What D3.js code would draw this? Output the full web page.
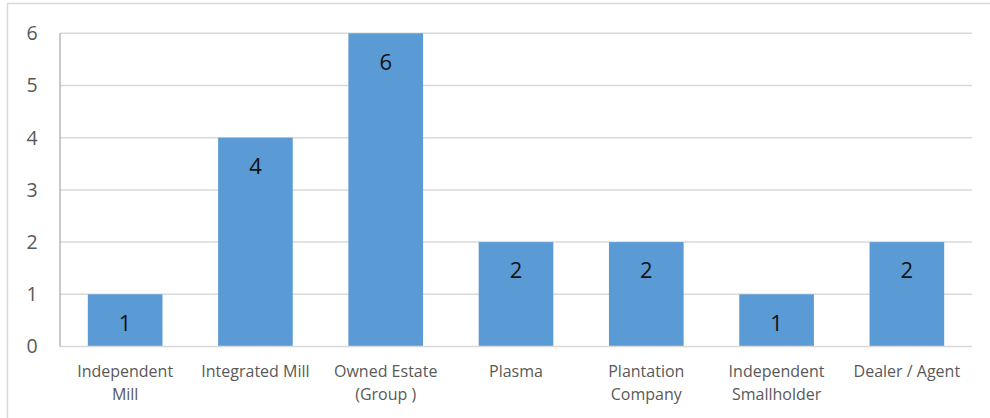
<!DOCTYPE html>
<html><head><meta charset="utf-8">
<script src="https://cdn.jsdelivr.net/npm/d3@7"></script>
<style>html,body{margin:0;padding:0;background:#fff;overflow:hidden}</style>
</head><body>
<svg id="chart" width="990" height="418"></svg>
<script>
const categories = ["Independent Mill","Integrated Mill","Owned Estate (Group )","Plasma","Plantation Company","Independent Smallholder","Dealer / Agent"];
const categoryLines = [["Independent","Mill"],["Integrated Mill"],["Owned Estate","(Group )"],["Plasma"],["Plantation","Company"],["Independent","Smallholder"],["Dealer / Agent"]];
const values = [1,4,6,2,2,1,2];
const yTicks = [0,1,2,3,4,5,6];

const svg = d3.select("#chart");
const font = "'Open Sans', sans-serif";
const m = {left:60, right:972, top:33.3, bottom:346.5};

svg.append("rect").attr("x",7.5).attr("y",3.5).attr("width",1000).attr("height",430)
  .attr("fill","#fff").attr("stroke","#d9d9d9").attr("stroke-width",1.5);

const x = d3.scaleBand().domain(categories).range([m.left,m.right]).paddingInner(0.427).paddingOuter(0.2135);
const y = d3.scaleLinear().domain([0,6]).range([m.bottom,m.top]);

// gridlines
svg.append("g").selectAll("line").data(yTicks.filter(d=>d>0)).join("line")
  .attr("x1",m.left).attr("x2",m.right).attr("y1",d=>y(d)).attr("y2",d=>y(d))
  .attr("stroke","#d9d9d9").attr("stroke-width",1.5);

// bars
svg.append("g").selectAll("rect").data(values).join("rect")
  .attr("x",(d,i)=>x(categories[i])).attr("width",x.bandwidth())
  .attr("y",d=>y(d)).attr("height",d=>y(0)-y(d)).attr("fill","#5b9bd5");

// x axis line
svg.append("line").attr("x1",m.left).attr("x2",m.right).attr("y1",y(0)).attr("y2",y(0))
  .attr("stroke","#d9d9d9").attr("stroke-width",1.5);
// y axis line
svg.append("line").attr("x1",m.left).attr("x2",m.left).attr("y1",y(6)).attr("y2",y(0))
  .attr("stroke","#a6a6a6").attr("stroke-width",1.2);

// y tick labels
svg.append("g").selectAll("text").data(yTicks).join("text")
  .attr("x",32).attr("y",d=>y(d)).attr("dy","0.35em").attr("text-anchor","middle")
  .attr("font-family",font).attr("font-size",19.5).attr("fill","#595959").text(d=>d);

// x labels
const xl = svg.append("g").selectAll("text").data(categories).join("text")
  .attr("text-anchor","middle").attr("font-family",font).attr("font-size",16).attr("fill","#595959")
  .attr("transform",d=>`translate(${x(d)+x.bandwidth()/2},${y(0)+30})`);
xl.each(function(d,i){
  d3.select(this).selectAll("tspan").data(categoryLines[i]).join("tspan")
    .attr("x",0).attr("dy",(t,j)=>j===0?0:23).text(t=>t);
});

// data labels
svg.append("g").selectAll("text").data(values).join("text")
  .attr("x",(d,i)=>x(categories[i])+x.bandwidth()/2).attr("y",d=>y(d)+28.5).attr("dy","0.35em")
  .attr("text-anchor","middle").attr("font-family",font).attr("font-size",22).attr("fill","#111")
  .text(d=>d);
</script>
</body></html>
